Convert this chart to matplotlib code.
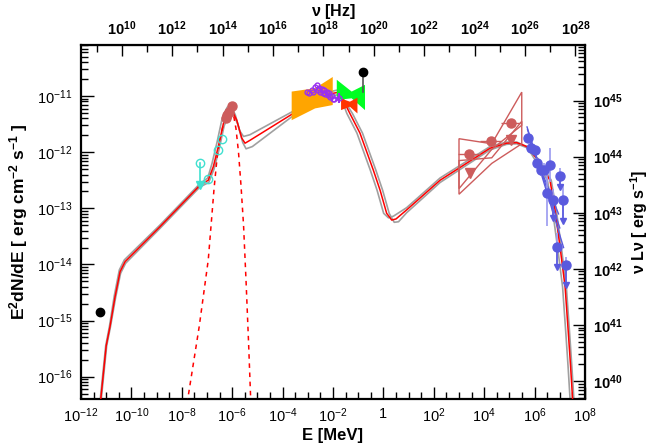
import numpy as np
import matplotlib
matplotlib.use('Agg')
import matplotlib.pyplot as plt
from matplotlib.ticker import FixedLocator, FuncFormatter, NullFormatter

plt.rcParams['font.family'] = ['Liberation Sans', 'DejaVu Sans']
plt.rcParams['mathtext.fontset'] = 'custom'
plt.rcParams['mathtext.rm'] = 'Liberation Sans'
plt.rcParams['mathtext.it'] = 'Liberation Sans:italic'
plt.rcParams['mathtext.bf'] = 'Liberation Sans:bold'
plt.rcParams['mathtext.default'] = 'regular'

# ---- model curves (log10 E [MeV], log10 E^2dN/dE) ----
red_logE = [-11.32, -11.22, -11.18, -11.0, -10.85, -10.65, -10.45, -10.25, -8.87, -7.28, -6.95,
            -6.75, -6.55, -6.35, -6.15, -6.02, -5.82, -5.62, -5.49, -5.3, -3.58, -1.99, -1.75,
            -1.33, -0.93, -0.40, -0.13, 0.13, 0.33, 0.5, 0.92, 2.25, 4.23, 4.89, 5.29, 5.69,
            6.08, 6.61, 6.81, 7.01, 7.21, 7.34, 7.43, 7.51, 7.56]
red_logF = [-16.8, -16.42, -16.24, -15.45, -15.11, -14.58, -14.13, -13.95, -13.33, -12.59, -12.50,
            -12.26, -11.90, -11.49, -11.28, -11.24, -11.43, -11.75, -11.84, -11.79, -11.31, -10.95, -10.93,
            -11.31, -11.66, -12.32, -12.68, -13.09, -13.21, -13.19, -13.03, -12.50, -11.93, -11.84, -11.83, -11.90,
            -12.11, -12.50, -13.03, -13.69, -14.40, -15.23, -15.83, -16.42, -16.9]

grey_hi_logE = [-11.34, -11.24, -11.02, -10.87, -10.68, -10.48, -10.28, -8.87, -7.28, -6.97, -6.8,
                -6.6, -6.4, -6.2, -6.07, -5.88, -5.7, -5.55, -5.3, -3.58, -1.99, -1.8,
                -1.45, -1.05, -0.52, -0.25, 0.01, 0.2, 0.4, 0.92, 2.25, 4.23, 4.89, 5.29, 5.69,
                5.98, 6.51, 6.71, 6.91, 7.11, 7.24, 7.33, 7.41, 7.46]
grey_hi_logF = [-16.8, -16.42, -15.45, -15.1, -14.56, -14.1, -13.92, -13.3, -12.56, -12.46, -12.2,
                -11.82, -11.4, -11.2, -11.17, -11.33, -11.62, -11.72, -11.69, -11.27, -10.91, -10.89,
                -11.31, -11.66, -12.32, -12.68, -13.09, -13.17, -13.14, -12.99, -12.46, -11.90, -11.82, -11.82, -11.9,
                -12.11, -12.50, -13.03, -13.69, -14.40, -15.23, -15.83, -16.42, -16.9]

grey_lo_logE = [-11.30, -11.20, -10.98, -10.83, -10.63, -10.43, -10.23, -8.87, -7.28, -6.93, -6.72,
                -6.52, -6.32, -6.12, -5.98, -5.78, -5.58, -5.45, -5.2, -3.58, -1.99, -1.7,
                -1.23, -0.83, -0.30, -0.03, 0.23, 0.43, 0.6, 0.92, 2.25, 4.23, 4.89, 5.29, 5.69,
                6.12, 6.66, 6.86, 7.06, 7.26, 7.39, 7.48, 7.56, 7.61]
grey_lo_logF = [-16.8, -16.42, -15.45, -15.11, -14.6, -14.16, -13.98, -13.36, -12.62, -12.54, -12.3,
                -11.95, -11.53, -11.33, -11.30, -11.5, -11.83, -11.94, -11.9, -11.35, -10.99, -10.97,
                -11.31, -11.66, -12.32, -12.68, -13.09, -13.25, -13.24, -13.08, -12.54, -11.96, -11.86, -11.85, -11.92,
                -12.11, -12.50, -13.03, -13.69, -14.40, -15.23, -15.83, -16.42, -16.9]

host_logE = [-7.9, -7.76, -7.31, -6.95, -6.72, -6.6, -6.5, -6.35, -6.2, -6.05, -5.96,
             -5.85, -5.75, -5.65, -5.55, -5.45, -5.35, -5.25]
host_logF = [-16.8, -16.39, -15.11, -13.92, -12.65, -12.1, -11.8, -11.5, -11.34, -11.28, -11.31,
             -11.58, -12.0, -12.6, -13.3, -14.3, -15.4, -16.6]

# ---- data ----
radio_logE, radio_logF = [-11.25], [-14.85]
xray_pt_logE, xray_pt_logF, xray_pt_lo = [-0.82], [-10.58], [-10.92]

uv_logE = [-6.95, -6.56, -6.42]
uv_logF = [-12.48, -11.96, -11.77]
uv_ul_logE, uv_ul_logF, uv_ul_end = [-7.26], [-12.19], [-12.59]

opt_logE = [-6.23, -6.19, -6.13, -6.01]
opt_logF = [-11.39, -11.34, -11.29, -11.17]

xrt_bfly_logE = [-3.64, -2.71, -2.01, -2.01, -2.71, -3.64]
xrt_bfly_logF = [-10.92, -10.86, -10.66, -11.16, -11.22, -11.43]
bat_bfly_logE = [-1.85, -1.26, -0.73, -0.73, -1.26, -1.85]
bat_bfly_logF = [-10.71, -10.92, -10.80, -11.25, -11.04, -11.07]
isgri_bfly_logE = [-1.68, -1.33, -1.03, -1.03, -1.33, -1.68]
isgri_bfly_logF = [-11.045, -11.10, -11.03, -11.31, -11.19, -11.25]

xrt_pts_logE = [-3.04, -2.95, -2.85, -2.78, -2.71, -2.65, -2.6, -2.55, -2.5, -2.45, -2.4,
                -2.35, -2.3, -2.25, -2.2, -2.15, -2.1, -2.05, -2.0, -1.95]
xrt_pts_logF = [-10.93, -10.95, -10.9, -10.92, -10.84, -10.8, -10.9, -10.86, -10.93, -10.88, -10.95,
                -10.9, -10.97, -10.93, -10.99, -10.95, -11.02, -11.0, -11.05, -11.06]
bat_pt_logE, bat_pt_logF, bat_pt_err = [-1.76], [-11.04], [0.09]

lat_logE = [3.41, 4.26, 5.05]
lat_logF = [-12.04, -11.80, -11.48]
lat_lo = [2.95, 3.82, 4.68]
lat_hi = [3.82, 4.68, 5.43]
lat2_logE = [3.44, 5.06]
lat2_logF = [-12.37, -11.78]
lat_bfly_logE = [3.0, 4.3, 5.49, 5.49, 4.3, 3.0]
lat_bfly_logF = [-11.76, -11.85, -10.93, -11.52, -11.95, -12.65]
lat2_bfly_logE = [3.0, 4.3, 5.49, 5.49, 4.3, 3.0]
lat2_bfly_logF = [-12.15, -12.1, -11.45, -11.85, -12.2, -12.75]

vhe_logE = [5.72, 5.86, 6.0, 6.11, 6.24, 6.37, 6.61, 6.99, 6.48, 6.73, 7.13, 6.88, 7.24]
vhe_logF = [-11.74, -11.93, -11.96, -12.19, -12.32, -12.31, -12.23, -12.43, -12.72, -12.85, -12.86, -13.69, -14.01]
vhe_up = [0.06, 0.06, 0.06, 0.08, 0.1, 0.12, 0.3, 0.15, 0.5, 0.2, 0.3, 0.25, 0.15]
vhe_dn = [0.06, 0.06, 0.06, 0.08, 0.1, 0.12, 0.3, 0.2, 0.6, 0.35, 0.4, 0.35, 0.35]
vhe_arrow_logE = [6.74, 6.99, 7.13, 6.88, 7.24]
vhe_arrow_top = [-12.85, -12.43, -12.86, -13.69, -14.01]
vhe_arrow_end = [-13.18, -12.62, -13.22, -14.05, -14.37]
vhe_fit_logE = [[5.7, 7.15], [5.72, 7.0], [5.8, 6.95]]
vhe_fit_logF = [[-11.55, -13.7], [-11.6, -13.35], [-11.8, -13.1]]

# right / top axis conversions
MEV_TO_HZ = 2.418e20
LUM_FACTOR = 10 ** 56.08

c_red = '#ff0000'
c_grey = '#a0a0a0'
c_lat = '#cd5c5c'
c_vhe = '#5a5ade'


def p(a):
    return 10 ** np.asarray(a, dtype=float)


def exp_label(v, bold=False):
    e = int(round(np.log10(v)))
    if bold:
        return r'$\mathbf{10^{%d}}$' % e
    return r'$10^{%d}$' % e


fig = plt.figure(figsize=(6.65, 4.45), dpi=100)
ax = fig.add_axes([81 / 665, 1 - 398.5 / 445, 504 / 665, 353.5 / 445])
ax.set_xscale('log')
ax.set_yscale('log')

ax.plot(p(grey_hi_logE), p(grey_hi_logF), color=c_grey, lw=1.2, zorder=2)
ax.plot(p(grey_lo_logE), p(grey_lo_logF), color=c_grey, lw=1.2, zorder=2)
ax.plot(p(red_logE), p(red_logF), color=c_red, lw=1.1, zorder=3)
ax.plot(p(host_logE), p(host_logF), color=c_red, lw=1.1, ls=(0, (3, 3)), zorder=3)

# butterflies
ax.fill(p(xrt_bfly_logE), p(xrt_bfly_logF), color='#ffa500', lw=0, zorder=4)
ax.fill(p(bat_bfly_logE), p(bat_bfly_logF), color='#00ff22', lw=0, zorder=4)
ax.fill(p(isgri_bfly_logE), p(isgri_bfly_logF), color='#ff3300', lw=0, zorder=5)

ax.plot(p(xrt_pts_logE), p(xrt_pts_logF), 'o', mfc='none', mec='#9a2ff0', ms=3.5, mew=1, zorder=6)
ax.errorbar(p(bat_pt_logE), p(bat_pt_logF),
            yerr=[p(bat_pt_logF) - p(np.array(bat_pt_logF) - bat_pt_err),
                  p(np.array(bat_pt_logF) + bat_pt_err) - p(bat_pt_logF)],
            fmt='o', mfc='none', mec='#9a2ff0', ecolor='#9a2ff0', ms=3.5, zorder=6)

# x-ray point
ax.plot([p(xray_pt_logE)[0]] * 2, [p(xray_pt_logF)[0], p(xray_pt_lo)[0]], color='#555555', lw=1.2, zorder=6)
ax.plot(p(xray_pt_logE), p(xray_pt_logF), 'o', color='black', ms=6, zorder=7)
ax.plot(p(radio_logE), p(radio_logF), 'o', color='black', ms=6, zorder=7)

# UV / optical
ax.plot(p(uv_logE), p(uv_logF), 'o', mfc='none', mec='#40e0d0', ms=6, mew=1, zorder=6)
ax.plot(p(uv_ul_logE), p(uv_ul_logF), 'o', mfc='none', mec='#40e0d0', ms=6, mew=1, zorder=6)
ax.plot([p(uv_ul_logE)[0]] * 2, [p(uv_ul_logF)[0], p(uv_ul_end)[0]], color='#40e0d0', lw=1.2, zorder=6)
ax.plot(p(uv_ul_logE), p(uv_ul_end), 'v', color='#40e0d0', ms=6, zorder=6)
ax.plot(p(opt_logE), p(opt_logF), 'o', color=c_lat, ms=6.5, zorder=6)

# Fermi-LAT
ax.fill(p(lat_bfly_logE), p(lat_bfly_logF), fill=False, ec=c_lat, lw=1, zorder=5)
ax.fill(p(lat2_bfly_logE), p(lat2_bfly_logF), fill=False, ec=c_lat, lw=1, zorder=5)
ax.errorbar(p(lat_logE), p(lat_logF), xerr=[p(lat_logE) - p(lat_lo), p(lat_hi) - p(lat_logE)],
            fmt='o', color=c_lat, ms=6.5, lw=1, zorder=6)
ax.plot(p(lat2_logE), p(lat2_logF), 'v', color=c_lat, ms=6.5, zorder=6)

# VHE
for xs, ys in zip(vhe_fit_logE, vhe_fit_logF):
    ax.plot(p(xs), p(ys), color=c_vhe, lw=1, zorder=5)
ye = np.array(vhe_logF)
ax.errorbar(p(vhe_logE), p(ye), yerr=[p(ye) - p(ye - np.array(vhe_dn)), p(ye + np.array(vhe_up)) - p(ye)],
            fmt='o', color=c_vhe, ecolor='#9a9af0', ms=6.5, lw=1.2, zorder=6)
for xe, yt, yb in zip(vhe_arrow_logE, vhe_arrow_top, vhe_arrow_end):
    ax.plot([10 ** xe] * 2, [10 ** yt, 10 ** yb], color=c_vhe, lw=1.2, zorder=6)
ax.plot(p(vhe_arrow_logE), p(vhe_arrow_end), 'v', color=c_vhe, ms=5, zorder=6)

ax.set_xlim(1e-12, 1e8)
ax.set_ylim(10 ** -16.39, 10 ** -10.09)

# bottom axis ticks
ax.xaxis.set_major_locator(FixedLocator([10.0 ** k for k in range(-12, 9, 2)]))
ax.xaxis.set_minor_locator(FixedLocator([10.0 ** (k + 0.5 * j) for k in range(-12, 8, 2) for j in (1, 2, 3)]))
ax.xaxis.set_major_formatter(FuncFormatter(lambda v, pos: '1' if abs(v - 1) < 1e-9 else exp_label(v)))
ax.xaxis.set_minor_formatter(NullFormatter())
ax.yaxis.set_major_formatter(FuncFormatter(lambda v, pos: exp_label(v)))
ax.yaxis.set_minor_formatter(NullFormatter())
ax.tick_params(which='both', direction='in', top=False, right=False, labelsize=10.5, width=1)
ax.tick_params(which='major', length=9, pad=6)
ax.tick_params(which='minor', length=5)
for s in ax.spines.values():
    s.set_linewidth(1.6)

sec_x = ax.secondary_xaxis('top', functions=(lambda e: e * MEV_TO_HZ, lambda n: n / MEV_TO_HZ))
sec_x.xaxis.set_major_locator(FixedLocator([10.0 ** k for k in range(10, 29, 2)]))
sec_x.xaxis.set_minor_locator(FixedLocator([10.0 ** k for k in range(9, 29, 2)]))
sec_x.xaxis.set_major_formatter(FuncFormatter(lambda v, pos: exp_label(v, bold=True)))
sec_x.xaxis.set_minor_formatter(NullFormatter())
sec_x.tick_params(which='both', direction='in', labelsize=10.5, width=1)
sec_x.tick_params(which='major', length=8, pad=5)
sec_x.tick_params(which='minor', length=5)
fig.text(333 / 665, 1 - 2 / 445, r'$\mathbf{\nu}$ [Hz]', ha='center', va='top',
         fontsize=11.5, fontweight='bold')

sec_y = ax.secondary_yaxis('right', functions=(lambda f: f * LUM_FACTOR, lambda l: l / LUM_FACTOR))
sec_y.yaxis.set_major_formatter(FuncFormatter(lambda v, pos: exp_label(v, bold=True)))
sec_y.yaxis.set_minor_formatter(NullFormatter())
sec_y.tick_params(which='both', direction='in', labelsize=10.5, width=1)
sec_y.tick_params(which='major', length=9, pad=6)
sec_y.tick_params(which='minor', length=5)
sec_y.set_ylabel(r'$\mathbf{\nu}$ L$\mathbf{\nu}$ [ erg s$^{\mathbf{-1}}$]', fontsize=11.5,
                 fontweight='bold', labelpad=4)

ax.set_xlabel('E [MeV]', fontsize=12, fontweight='bold', labelpad=2)
ax.set_ylabel(r'E$^{\mathbf{2}}$dN/dE [ erg cm$^{\mathbf{-2}}$ s$^{\mathbf{-1}}$ ]', fontsize=12.5,
              fontweight='bold', labelpad=5)

# hide the empty helper texts (titles, offsets, unused labels)
for a in (ax, sec_x, sec_y):
    for t in (a.title, a._left_title, a._right_title, a.xaxis.offsetText, a.yaxis.offsetText,
              a.xaxis.label, a.yaxis.label):
        if t.get_text() == '':
            t.set_visible(False)

fig.savefig('out.png', dpi=100)
